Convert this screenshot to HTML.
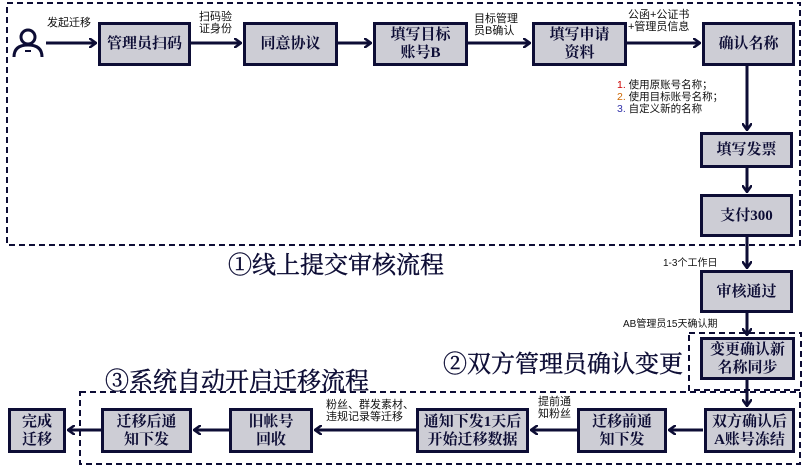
<!DOCTYPE html>
<html><head><meta charset="utf-8"><style>
body{margin:0;width:803px;height:467px;background:#fff;position:relative;overflow:hidden;font-family:"Liberation Sans","Noto Sans CJK SC",sans-serif;}
.b{position:absolute;box-sizing:border-box;background:#cdcdd5;border:3px solid #0d0d35;display:flex;align-items:center;justify-content:center;text-align:center;font-weight:bold;font-size:15px;line-height:18px;color:#0d0d35;font-family:"Liberation Serif","Noto Serif CJK SC",serif;}
.t{position:absolute;font-size:11px;line-height:12px;color:#111;white-space:nowrap;}
.h{position:absolute;font-size:24px;color:#0d0d35;font-family:"Liberation Serif","Noto Serif CJK SC",serif;white-space:nowrap;-webkit-text-stroke:0.4px #0d0d35;}
svg{position:absolute;left:0;top:0;}
</style></head><body>
<svg width="803" height="467">
<defs><marker id="a" markerWidth="8" markerHeight="10" refX="7" refY="5" orient="auto" markerUnits="userSpaceOnUse"><path d="M0,0 L7,5 L0,10" fill="none" stroke="#0d0d35" stroke-width="2.5"/></marker></defs>
<g fill="none" stroke="#0d0d35" stroke-width="2" stroke-dasharray="6,4">
<rect x="7" y="3" width="793" height="242"/>
<rect x="689" y="333" width="112" height="57"/>
<rect x="80" y="392" width="720" height="72"/>
</g>
<g stroke="#0d0d35" stroke-width="3" fill="none" marker-end="url(#a)">
<line x1="46" y1="43" x2="96" y2="43"/>
<line x1="191" y1="43" x2="241" y2="43"/>
<line x1="338" y1="43" x2="371" y2="43"/>
<line x1="468" y1="43" x2="530" y2="43"/>
<line x1="627" y1="43" x2="700" y2="43"/>
<line x1="747" y1="66" x2="747" y2="130"/>
<line x1="747" y1="168" x2="747" y2="192"/>
<line x1="747" y1="237" x2="747" y2="268"/>
<line x1="747" y1="313" x2="747" y2="335"/>
<line x1="747" y1="380" x2="747" y2="406"/>
<line x1="703" y1="430" x2="669" y2="430"/>
<line x1="577" y1="430" x2="531" y2="430"/>
<line x1="416" y1="430" x2="315" y2="430"/>
<line x1="229" y1="430" x2="194" y2="430"/>
<line x1="101" y1="430" x2="68" y2="430"/>
</g>
<g fill="none" stroke="#0d0d35" stroke-width="3">
<circle cx="28" cy="37" r="7"/>
<path d="M14,57 Q14,45 28,45 Q42,45 42,57"/>
</g>
<rect x="25" y="50" width="6" height="2" fill="#0d0d35"/>
</svg>
<div class="t" style="left:47px;top:17px">发起迁移</div>
<div class="t" style="left:199px;top:11px">扫码验<br>证身份</div>
<div class="t" style="left:474px;top:13px">目标管理<br>员B确认</div>
<div class="t" style="left:628px;top:9px">公函+公证书<br>+管理员信息</div>
<div class="t" style="left:617px;top:79px;font-size:10.5px"><span style="color:#c00">1.</span> 使用原账号名称；<br><span style="color:#c60">2.</span> 使用目标账号名称；<br><span style="color:#33a">3.</span> 自定义新的名称</div>
<div class="t" style="left:663px;top:258px;font-size:10px">1-3个工作日</div>
<div class="t" style="left:623px;top:319px;font-size:10px">AB管理员15天确认期</div>
<div class="t" style="left:326px;top:399px">粉丝、群发素材、<br>违规记录等迁移</div>
<div class="t" style="left:538px;top:396px">提前通<br>知粉丝</div>
<div class="b" style="left:98px;top:22px;width:93px;height:44px">管理员扫码</div>
<div class="b" style="left:243px;top:22px;width:95px;height:44px">同意协议</div>
<div class="b" style="left:373px;top:22px;width:95px;height:44px">填写目标<br>账号B</div>
<div class="b" style="left:532px;top:22px;width:95px;height:44px">填写申请<br>资料</div>
<div class="b" style="left:702px;top:22px;width:93px;height:44px">确认名称</div>
<div class="b" style="left:700px;top:132px;width:93px;height:36px">填写发票</div>
<div class="b" style="left:700px;top:194px;width:93px;height:43px">支付300</div>
<div class="b" style="left:700px;top:270px;width:93px;height:43px">审核通过</div>
<div class="b" style="left:700px;top:337px;width:95px;height:43px">变更确认新<br>名称同步</div>
<div class="b" style="left:704px;top:408px;width:91px;height:45px">双方确认后<br>A账号冻结</div>
<div class="b" style="left:577px;top:408px;width:90px;height:45px">迁移前通<br>知下发</div>
<div class="b" style="left:416px;top:408px;width:113px;height:45px">通知下发1天后<br>开始迁移数据</div>
<div class="b" style="left:229px;top:408px;width:84px;height:45px">旧帐号<br>回收</div>
<div class="b" style="left:101px;top:408px;width:91px;height:45px">迁移后通<br>知下发</div>
<div class="b" style="left:8px;top:408px;width:58px;height:45px">完成<br>迁移</div>
<div class="h" style="left:228px;top:245px">①线上提交审核流程</div>
<div class="h" style="left:443px;top:344px">②双方管理员确认变更</div>
<div class="h" style="left:105px;top:361px">③系统自动开启迁移流程</div>
</body></html>
